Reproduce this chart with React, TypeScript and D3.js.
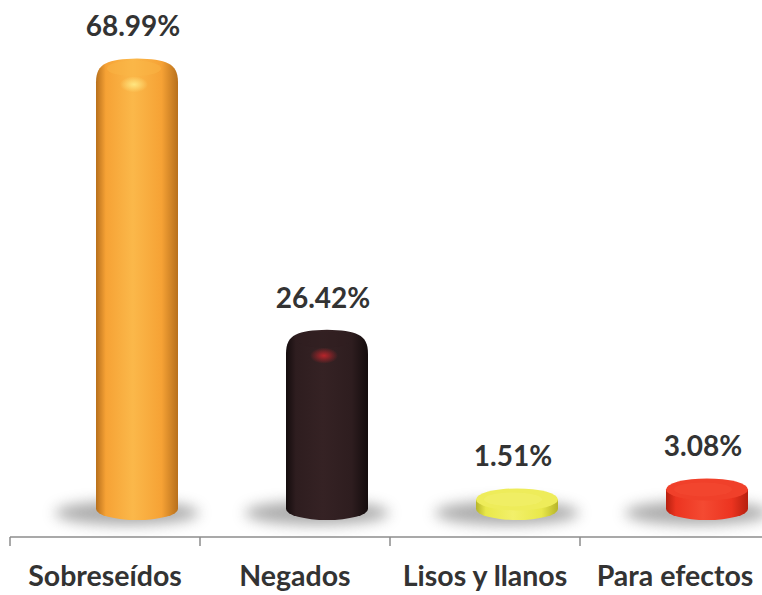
import * as d3 from 'd3'

const categories = ['Sobreseídos', 'Negados', 'Lisos y llanos', 'Para efectos']
const values = [68.99, 26.42, 1.51, 3.08]
const valueLabels = ['68.99%', '26.42%', '1.51%', '3.08%']
const palette = [
  { dark: '#b8701c', mid: '#f6a235', light: '#fbb84a', top: '#f9b545', hi: '#ffe680' },
  { dark: '#140c0d', mid: '#2e1d1f', light: '#352224', top: '#2f1e20', hi: '#b8242a' },
  { dark: '#b7b52a', mid: '#e9e84a', light: '#f2f06a', top: '#eeec5a', hi: '#ffff9a' },
  { dark: '#b6200f', mid: '#ec3420', light: '#f44a32', top: '#f0402a', hi: '#ff7a5a' },
]

const W = 762
const H = 595
const axisY = 537
const baseC = 509 // centre of the bottom ellipse
const rx = 41
const ry = 11
const depthShift = 32

export default function App() {
  const x = d3.scaleBand<string>().domain(categories).range([10, 770]).padding(0)
  const h = d3.scaleLinear().domain([0, 70]).range([0, 446])
  const ticks = [...categories.map(c => x(c) as number), 770]

  return (
    <svg width={W} height={H} style={{ position: 'absolute', left: 0, top: 0, background: '#fff' }}>
      <defs>
        <filter id="blur" x="-50%" y="-100%" width="200%" height="300%">
          <feGaussianBlur stdDeviation="7" />
        </filter>
        {palette.map((p, i) => (
          <g key={i}>
            <linearGradient id={`side${i}`} x1="0" x2="1" y1="0" y2="0">
              <stop offset="0" stopColor={p.dark} />
              <stop offset="0.12" stopColor={p.mid} />
              <stop offset="0.45" stopColor={p.light} />
              <stop offset="0.8" stopColor={p.mid} />
              <stop offset="1" stopColor={p.dark} />
            </linearGradient>
            <radialGradient id={`hi${i}`} cx="0.5" cy="0.5" r="0.5">
              <stop offset="0" stopColor={p.hi} stopOpacity="1" />
              <stop offset="1" stopColor={p.hi} stopOpacity="0" />
            </radialGradient>
          </g>
        ))}
      </defs>

      {categories.map((c, i) => {
        const cx = (x(c) as number) + x.bandwidth() / 2 + depthShift
        return (
          <ellipse key={`sh${i}`} cx={cx - 10} cy={baseC + 4} rx={72} ry={12}
            fill="#888" opacity={0.7} filter="url(#blur)" />
        )
      })}

      {categories.map((c, i) => {
        const cx = (x(c) as number) + x.bandwidth() / 2 + depthShift
        const L = cx - rx
        const R = cx + rx
        const tc = baseC - h(values[i])
        const p = palette[i]
        const tall = values[i] > 10
        if (tall) {
          const top = tc - ry
          const d = `M${L},${baseC} V${top + 24} C${L},${top + 4} ${L + 12},${top + 1} ${cx},${top} C${R - 12},${top + 1} ${R},${top + 4} ${R},${top + 24} V${baseC} A${rx},${ry} 0 0 1 ${L},${baseC} Z`
          return (
            <g key={c}>
              <path d={d} fill={`url(#side${i})`} />
              <ellipse cx={cx - 3} cy={top + 10} rx={rx - 14} ry={8} fill={p.top} opacity={0.5} />
              <ellipse cx={cx - 3} cy={top + 26} rx={14} ry={8} fill={`url(#hi${i})`} />
            </g>
          )
        }
        const d = `M${L},${tc} V${baseC} A${rx},${ry} 0 0 0 ${R},${baseC} V${tc} Z`
        return (
          <g key={c}>
            <path d={d} fill={`url(#side${i})`} />
            <ellipse cx={cx} cy={tc} rx={rx} ry={ry} fill={p.top} />
            <ellipse cx={cx - 4} cy={tc} rx={rx - 12} ry={ry - 4} fill={p.light} opacity={0.6} />
          </g>
        )
      })}

      {categories.map((c, i) => {
        const cx = (x(c) as number) + x.bandwidth() / 2 + depthShift
        const top = baseC - h(values[i]) - ry
        return (
          <text key={`v${i}`} x={cx - 4} y={top - 22} textAnchor="middle"
            fontFamily="Lato, sans-serif" fontWeight="bold" fontSize={28} fill="#333">
            {valueLabels[i]}
          </text>
        )
      })}

      <line x1={10} x2={W} y1={axisY} y2={axisY} stroke="#8c8c8c" strokeWidth={1.5} />
      {ticks.map((t, i) => (
        <line key={`t${i}`} x1={t} x2={t} y1={axisY} y2={axisY + 9} stroke="#8c8c8c" strokeWidth={1.5} />
      ))}

      {categories.map(c => (
        <text key={`c${c}`} x={(x(c) as number) + x.bandwidth() / 2} y={586} textAnchor="middle"
          fontFamily="Lato, sans-serif" fontWeight="bold" fontSize={28.5} fill="#333">
          {c}
        </text>
      ))}
    </svg>
  )
}
